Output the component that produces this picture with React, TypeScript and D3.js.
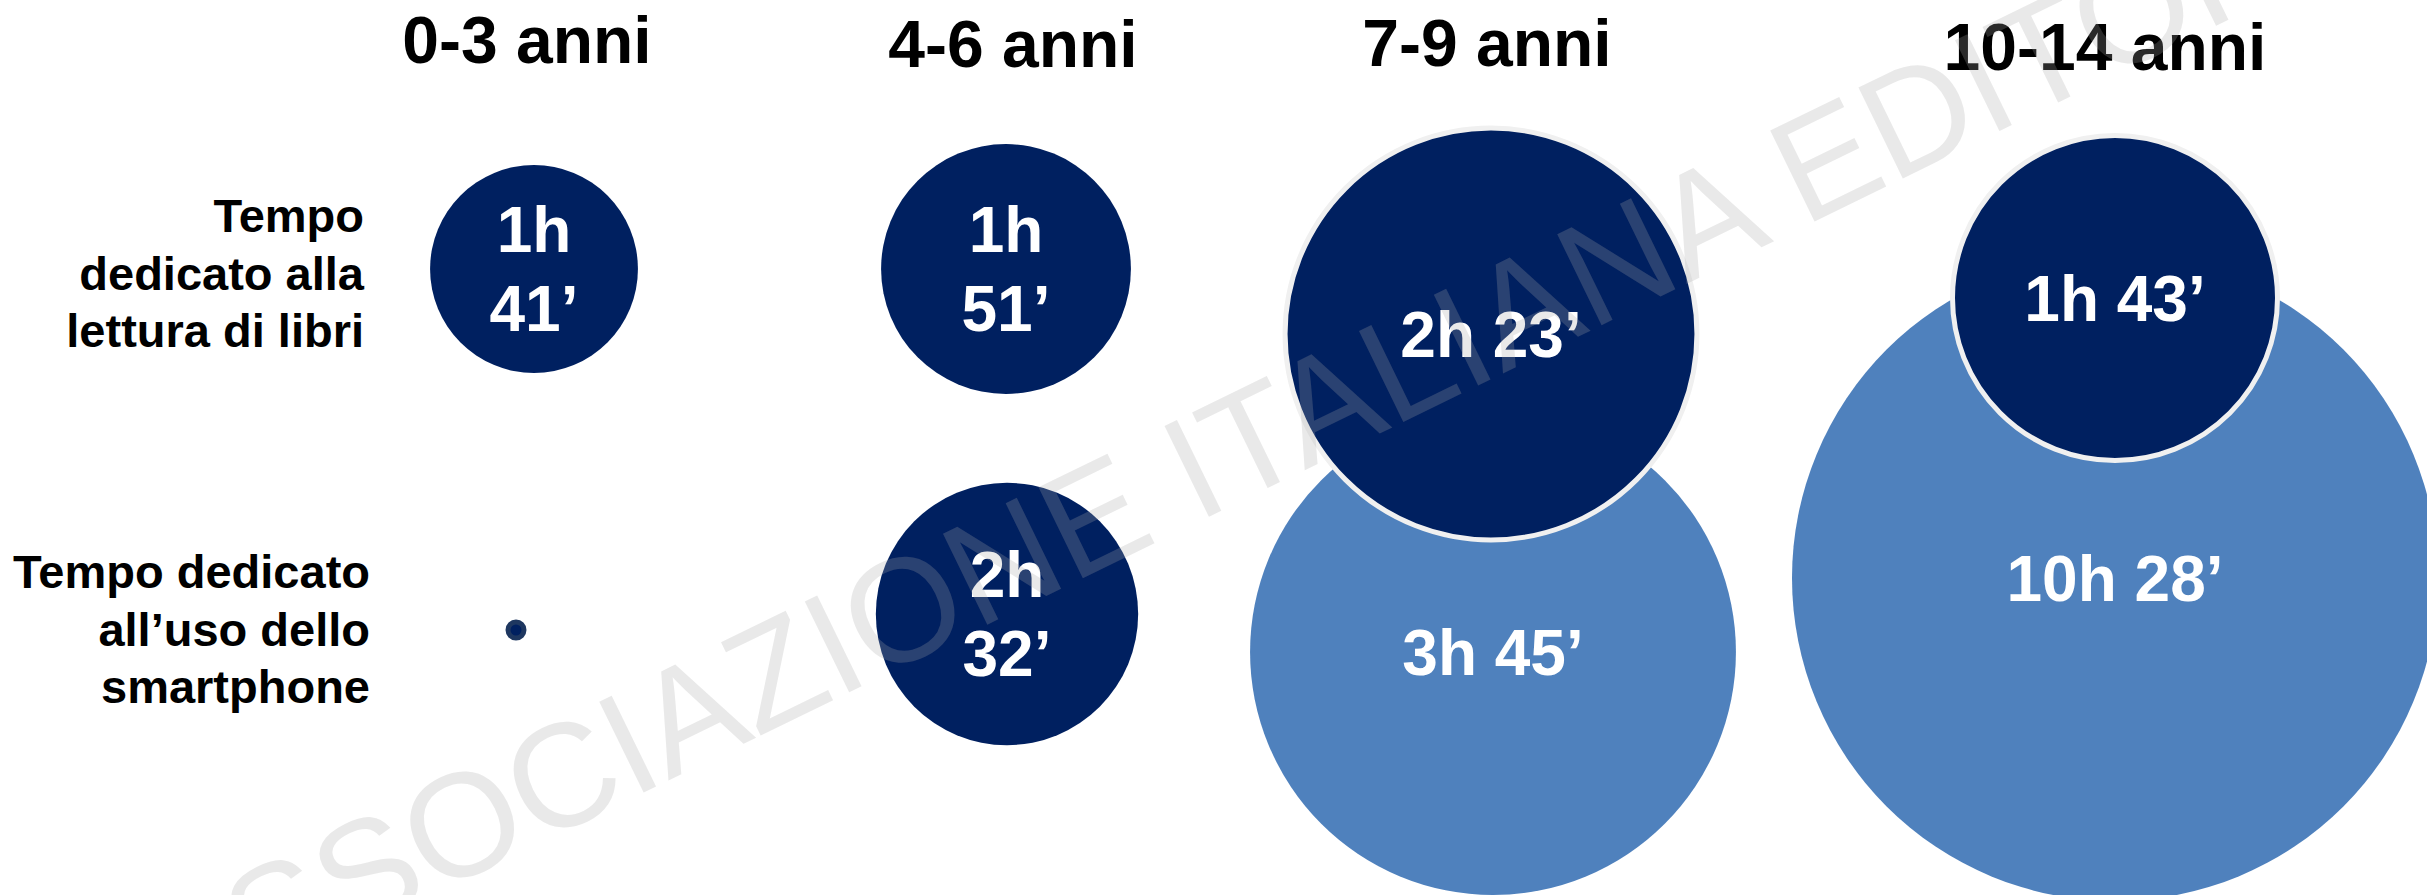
import React from "react";
import * as d3 from "d3";

// ---------------- DATA ----------------
const ageGroups = ["0-3 anni", "4-6 anni", "7-9 anni", "10-14 anni"];
// minutes per week
const readingMinutes: (number | null)[] = [101, 111, 143, 103];
const phoneMinutes: (number | null)[] = [null, 152, 225, 628];
// bubble-size series (third dimension of the bubble chart)
const readingBubbleSize = [108, 156, 424, 264];
const phoneBubbleSize = [1.1, 172, 590, 1043];
const rowKeys = ["reading", "phone"];
const rowLabels = [
  ["Tempo", "dedicato alla", "lettura di libri"],
  ["Tempo dedicato", "all\u2019uso dello", "smartphone"],
];
const watermarkText = "ASSOCIAZIONE ITALIANA EDITORI";

// ---------------- LAYOUT / STYLE ----------------
const W = 2427;
const H = 895;
const FONT = "'Liberation Sans', Arial, Helvetica, sans-serif";
const NAVY = "#002060";
const LIGHT = "#4F81BD";

const colX = d3.scaleOrdinal<string, number>().domain(ageGroups).range([532, 1008, 1490, 2113]);
const rowY = d3.scaleOrdinal<string, number>().domain(rowKeys).range([269, 622]);
const rScale = d3
  .scaleSqrt()
  .domain([0, d3.max(phoneBubbleSize) as number])
  .range([0, 323]);

const readingNudge = [[2, 0], [-2, 0], [1, 65], [2, 29]];
const phoneNudge = [[-16, 8], [-1, -8], [3, 30], [2, -44]];
const titleNudge = [[-5, -3], [5, 1], [-3, 0], [-8, 4]];
const rowLabelX = [364, 370];
const rowLabelFirstBaseline = [232, 588];

function fmt(m: number) {
  const h = Math.floor(m / 60);
  const mm = m % 60;
  return [`${h}h`, `${mm}\u2019`];
}

type Bubble = {
  key: string;
  cx: number;
  cy: number;
  r: number;
  value: number | null;
  row: string;
  col: number;
};

export default function App() {
  const reading: Bubble[] = ageGroups.map((a, i) => ({
    key: "r" + i,
    cx: colX(a) + readingNudge[i][0],
    cy: rowY("reading") + readingNudge[i][1],
    r: rScale(readingBubbleSize[i]),
    value: readingMinutes[i],
    row: "reading",
    col: i,
  }));
  const phone: Bubble[] = ageGroups.map((a, i) => ({
    key: "p" + i,
    cx: colX(a) + phoneNudge[i][0],
    cy: rowY("phone") + phoneNudge[i][1],
    r: rScale(phoneBubbleSize[i]),
    value: phoneMinutes[i],
    row: "phone",
    col: i,
  }));
  const overlaps = ageGroups.map((_, i) => {
    const a = reading[i];
    const b = phone[i];
    return Math.hypot(a.cx - b.cx, a.cy - b.cy) < a.r + b.r;
  });

  const fontSize = 64;
  const cap = fontSize * 0.716;
  const lineGap = 79;

  const label = (b: Bubble) => {
    if (b.value == null) return null;
    const parts = fmt(b.value);
    if (b.r < 150) {
      return (
        <text
          key={"t" + b.key}
          textAnchor="middle"
          fill="#fff"
          fontFamily={FONT}
          fontWeight="bold"
          fontSize={fontSize}
        >
          <tspan x={b.cx} y={b.cy + cap / 2 - lineGap / 2}>{parts[0]}</tspan>
          <tspan x={b.cx} y={b.cy + cap / 2 + lineGap / 2}>{parts[1]}</tspan>
        </text>
      );
    }
    return (
      <text
        key={"t" + b.key}
        x={b.cx}
        y={b.cy + cap / 2}
        textAnchor="middle"
        fill="#fff"
        fontFamily={FONT}
        fontWeight="bold"
        fontSize={fontSize}
      >
        {parts[0] + " " + parts[1]}
      </text>
    );
  };

  const theta = 26;

  return (
    <svg
      width={W}
      height={H}
      viewBox={`0 0 ${W} ${H}`}
      style={{ position: "absolute", left: 0, top: 0, display: "block", background: "#fff" }}
    >
      <rect width={W} height={H} fill="#fff" />
      {/* titles */}
      {ageGroups.map((a, i) => (
        <text
          key={a}
          x={colX(a) + titleNudge[i][0]}
          y={66 + titleNudge[i][1]}
          textAnchor="middle"
          fontFamily={FONT}
          fontWeight="bold"
          fontSize={66}
          fill="#000"
        >
          {a}
        </text>
      ))}
      {/* row labels */}
      {rowLabels.map((lines, ri) => (
        <text
          key={"row" + ri}
          textAnchor="end"
          fontFamily={FONT}
          fontWeight="bold"
          fontSize={47}
          fill="#000"
        >
          {lines.map((l, li) => (
            <tspan key={li} x={rowLabelX[ri]} y={rowLabelFirstBaseline[ri] + li * 57.5}>
              {l}
            </tspan>
          ))}
        </text>
      ))}
      {/* phone bubbles */}
      {phone.map((b, i) =>
        b.value == null ? (
          <circle key={b.key} cx={b.cx} cy={b.cy} r={Math.max(b.r - 2.5, 1)} fill={NAVY} stroke="#1E3760" strokeWidth={5} />
        ) : (
          <circle key={b.key} cx={b.cx} cy={b.cy} r={b.r} fill={overlaps[i] ? LIGHT : NAVY} />
        )
      )}
      {/* reading bubbles */}
      {reading.map((b, i) => (
        <circle
          key={b.key}
          cx={b.cx}
          cy={b.cy}
          r={b.r}
          fill={NAVY}
          stroke={overlaps[i] ? "#F0F0F0" : "none"}
          strokeWidth={overlaps[i] ? 5 : 0}
        />
      ))}
      {phone.map(label)}
      {reading.map(label)}
      {/* watermark */}
      <text
        transform={`translate(169,1024) rotate(${-theta})`}
        fontFamily={FONT}
        fontSize={147}
        fill="#A6A6A6"
        fillOpacity={0.25}
      >
        {watermarkText}
      </text>
    </svg>
  );
}
